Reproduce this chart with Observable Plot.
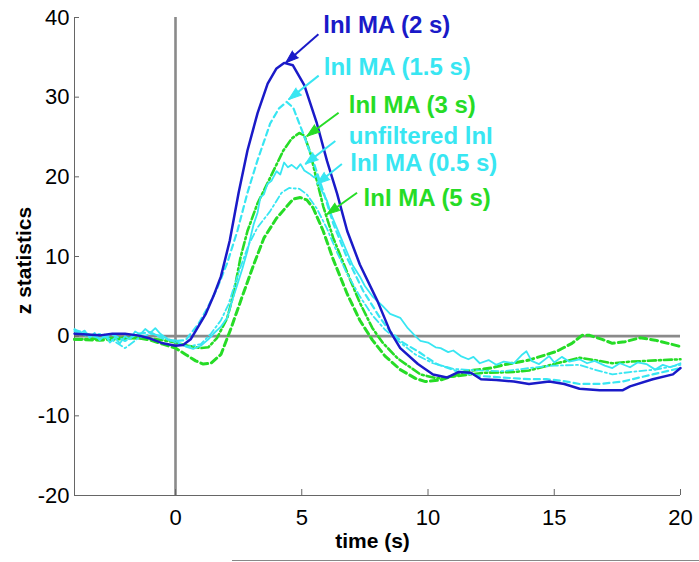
<!DOCTYPE html>
<html><head><meta charset="utf-8">
<script src="https://cdn.jsdelivr.net/npm/d3@7"></script>
<script src="https://cdn.jsdelivr.net/npm/@observablehq/plot@0.6"></script>
<style>
body{margin:0;background:#fff;}
#chart{position:relative;width:699px;height:562px;overflow:hidden;}
.edge{position:absolute;left:232px;top:560px;width:467px;height:1px;background:#888;}
</style></head><body><div id="chart"><div class="edge"></div></div>
<script>
// ---- data ----
const tMA2 = [-4,-3.5,-3,-2.5,-2,-1.5,-1,-0.5,0,0.3,0.6,0.9,1.2,1.5,1.8,2.15,2.5,2.85,3.25,3.65,4.0,4.3,4.65,5.1,5.6,6.0,6.4,6.8,7.3,8.0,8.5,8.9,9.6,10.2,10.75,11.2,11.7,12.1,12.7,13.4,14.0,14.8,15.4,16.0,16.8,17.7,18.0,18.9,19.7,20];
const zMA2 = [0.3,0.2,0.1,0.3,0.3,0.1,-0.3,-0.9,-1.2,-1.1,-0.4,1.2,2.8,5.0,7.5,12.0,18.0,23.3,28.0,31.7,33.6,34.3,34.0,31.5,26.7,22.0,17.9,13.2,9.0,4.4,0.6,-1.5,-3.5,-4.8,-5.2,-4.5,-4.6,-5.4,-5.5,-5.7,-6.0,-5.7,-6.0,-6.6,-6.8,-6.8,-6.3,-5.4,-4.8,-4.0];

const tMA15 = [-4,-3.5,-3,-2.5,-2,-1.5,-1,-0.5,0,0.4,0.9,1.26,1.65,2.05,2.45,2.85,3.24,3.75,4.1,4.4,4.66,5.06,5.45,5.85,6.25,6.8,7.43,8.1,8.5,9.0,9.6,10.35,11.15,12.05,13,14,14.7,15.3,16,16.8,17.7,18.9,20];
const zMA15 = [0.8,0.3,-0.3,0.2,-0.6,0.3,0.5,-0.3,-0.6,-0.5,1.5,3.5,6.0,9.2,13.2,18.0,22.0,26.7,28.6,29.4,28.7,25.4,22.0,18.2,14.1,9.8,5.7,2.3,0.6,-0.8,-1.9,-3.5,-4.4,-5.0,-5.2,-5.4,-5.4,-5.6,-6.0,-6.0,-5.7,-4.8,-4.0];

const tMA3 = [-4,-3,-2,-1,-0.5,0,0.5,1.0,1.3,1.65,2.05,2.3,2.57,2.85,3.24,3.75,4.27,4.6,4.9,5.1,5.34,5.6,5.85,6.25,6.8,7.3,7.8,8.2,8.8,9.7,10.35,11.15,12.2,13.4,14,15,16,16.6,17.3,18,18.65,19.3,20];
const zMA3 = [-0.4,-0.3,-0.2,-0.3,-0.5,-0.8,-1.2,-1.5,-1.4,-0.2,2.3,5.3,9.8,13.2,16.6,19.9,23.3,24.8,25.5,25.2,23.0,19.5,16.3,12.3,8.0,4.2,1.0,-0.8,-2.8,-4.8,-5.3,-5.0,-4.6,-4.5,-4.3,-3.5,-2.7,-3.0,-3.4,-3.2,-3.1,-3.0,-2.9];

const tMA5 = [-4,-3,-2,-1.5,-1,-0.5,0,0.4,0.8,1.1,1.4,1.8,2.2,2.6,3.1,3.5,4.0,4.66,4.94,5.2,5.45,5.85,6.25,6.8,7.3,7.8,8.3,8.9,9.5,9.9,10.5,11,11.5,12,12.5,13,14,15.1,15.7,16.1,16.4,16.9,17.3,17.8,18.4,19,19.5,20];
const zMA5 = [-0.4,-0.5,-0.3,-0.2,-0.5,-1.0,-1.5,-2.3,-3.1,-3.5,-3.4,-2.3,1.0,4.6,9.0,12.3,14.8,17.2,17.4,17.1,16.1,13.2,9.6,5.3,2.0,-0.5,-2.5,-4.2,-5.3,-5.7,-5.5,-5.0,-4.4,-4.2,-4.0,-3.6,-3.0,-1.9,-0.9,0.1,0.1,-0.4,-0.9,-0.7,-0.2,-0.5,-0.9,-1.3];

const tRaw = [-4,-3.8,-3.6,-3.4,-3.2,-3.0,-2.8,-2.6,-2.4,-2.2,-2.0,-1.8,-1.6,-1.4,-1.2,-1.0,-0.8,-0.6,-0.4,-0.2,0,0.2,0.4,0.7,1.0,1.3,1.5,1.8,2.05,2.25,2.45,2.65,2.85,3.0,3.1,3.25,3.36,3.5,3.64,3.8,4.0,4.15,4.3,4.45,4.6,4.8,4.95,5.1,5.3,5.5,5.6,5.75,5.9,6.0,6.2,6.4,6.6,6.8,7.0,7.3,7.5,7.8,8.0,8.2,8.5,8.9,9.2,9.5,9.7,10.0,10.3,10.5,10.8,11.0,11.3,11.6,11.8,12.05,12.4,12.7,13.0,13.4,13.7,13.9,14.1,14.4,14.8,15.0,15.3,15.6,16.0,16.3,16.6,17.0,17.3,17.6,18.0,18.3,18.65,19.0,19.3,19.6,20];
const zRaw = [0.9,0.3,0.7,-0.2,0.4,-0.5,0.2,-0.8,-0.2,-0.9,0.0,-0.4,0.6,0.2,0.9,0.4,1.0,0.3,-0.2,-0.6,-0.5,-1.0,-1.3,-1.6,-1.2,-0.4,0.3,1.2,2.3,4.5,6.5,8.5,10.7,12.8,14.1,15.5,17.4,17.8,19.1,19.5,20.7,20.3,21.8,21.2,21.5,21.0,21.6,20.8,20.4,19.9,20.2,18.5,17.6,17.0,15.0,13.5,12.0,10.5,9.0,7.5,6.3,5.0,4.4,3.8,2.8,2.3,1.0,0.0,-0.6,-0.8,-1.4,-1.5,-2.0,-1.8,-2.5,-2.9,-2.6,-3.4,-3.0,-3.6,-3.2,-3.4,-2.4,-1.9,-3.1,-3.5,-2.5,-3.3,-2.6,-3.2,-2.9,-3.4,-3.1,-3.7,-4.0,-3.4,-3.9,-3.3,-3.5,-4.2,-3.6,-3.9,-3.4];

const tMA05 = [-4,-3.5,-3,-2.5,-2,-1.7,-1.5,-1,-0.5,0,0.5,1.0,1.4,1.8,2.1,2.5,2.9,3.24,3.75,4.2,4.5,4.9,5.2,5.6,6.0,6.4,6.8,7.3,7.8,8.3,8.9,9.5,10.2,11,12,13,14,15,16,16.6,17.3,18,19,20];
const zMA05 = [0.6,0.0,0.3,-0.5,-1.5,-0.8,-0.3,0.3,0.0,-0.8,-1.3,-1.0,0.3,2.0,4.0,8.0,11.5,13.6,15.7,18.0,18.6,18.5,17.8,16.0,13.5,10.5,7.8,5.0,2.6,0.8,-0.8,-2.3,-3.4,-4.1,-4.3,-4.4,-4.0,-3.7,-3.6,-4.2,-4.8,-4.5,-4.2,-3.6];

const xTicks = [0,5,10,15,20];
const yTicks = [-20,-10,0,10,20,30,40];

// annotations
const labelNames = ["lnI MA (2 s)","lnI MA (1.5 s)","lnI MA (3 s)","unfiltered lnI","lnI MA (0.5 s)","lnI MA (5 s)"];
const labelT = [5.85,5.87,6.86,6.86,6.92,7.45];
const labelZ = [39.0,33.8,29.0,25.1,21.7,17.3];
const arrowT0 = [5.66,5.67,6.46,6.33,6.59,7.19];
const arrowZ0 = [37.9,32.7,28.05,24.5,21.6,18.0];
const arrowT1 = [4.36,4.48,5.2,5.14,5.6,6.0];
const arrowZ1 = [34.3,29.7,25.1,21.6,19.1,15.3];

// ---- styles ----
const BLUE = "#1a1ac8", CYAN = "#38e6f2", GREEN = "#26dc26";
const labelColors = [BLUE, CYAN, GREEN, CYAN, CYAN, GREEN];

const series = [
  {t: tMA5, z: zMA5, color: GREEN, dash: "7,4", w: 3},
  {t: tMA3, z: zMA3, color: GREEN, dash: "8,3,2,3", w: 2.6},
  {t: tMA05, z: zMA05, color: CYAN, dash: "7,3,2,3", w: 1.8},
  {t: tRaw, z: zRaw, color: CYAN, dash: null, w: 1.8},
  {t: tMA15, z: zMA15, color: CYAN, dash: "6,4", w: 2.2},
  {t: tMA2, z: zMA2, color: BLUE, dash: null, w: 2.5}
];

const ann = labelNames.map((name, i) => ({
  name, t: labelT[i], z: labelZ[i], t0: arrowT0[i], z0: arrowZ0[i], t1: arrowT1[i], z1: arrowZ1[i], color: labelColors[i]
}));

const fmt = d => String(d);

function baseMarks() {
  const m = [
    Plot.ruleX([0], {stroke: "#8a8a8a", strokeWidth: 2.6}),
    Plot.ruleY([0], {stroke: "#8a8a8a", strokeWidth: 2.6}),
    Plot.ruleX([-4], {stroke: "#666"}),
    Plot.ruleY([-20], {stroke: "#666"}),
    Plot.axisX(xTicks, {tickSize: -6, tickPadding: 20, fontSize: 22, label: null, stroke: "#666", fill: "black", tickFormat: fmt}),
    Plot.axisY(yTicks, {tickSize: -5, tickPadding: 10, fontSize: 22, label: null, stroke: "#666", fill: "black", tickFormat: fmt}),
    Plot.text(["time (s)"], {frameAnchor: "bottom", textAnchor: "middle", lineAnchor: "middle", dy: 46, dx: -5, fontSize: 21, fontWeight: "bold", fill: "black"}),
    Plot.text(["z statistics"], {frameAnchor: "left", textAnchor: "middle", lineAnchor: "middle", dx: -50, dy: 4, rotate: -90, fontSize: 21, fontWeight: "bold", fill: "black"})
  ];
  for (const s of series) {
    const rows = s.t.map((t, i) => ({t, z: s.z[i]}));
    m.push(Plot.line(rows, {x: "t", y: "z", stroke: s.color, strokeWidth: s.w, strokeDasharray: s.dash || undefined, curve: "linear"}));
  }
  m.push(Plot.link(ann, {x1: "t0", y1: "z0", x2: "t1", y2: "z1", stroke: "color", strokeWidth: 2}));
  m.push(Plot.text(ann, {x: "t", y: "z", text: "name", fill: "color", textAnchor: "start", lineAnchor: "middle", fontSize: 24, fontWeight: "bold"}));
  return m;
}

const opts = {
  width: 699, height: 562,
  marginLeft: 74, marginRight: 19, marginTop: 17, marginBottom: 67,
  x: {domain: [-4, 20]},
  y: {domain: [-20, 40]},
  style: {fontFamily: "'Liberation Sans', Arial, sans-serif", background: "white", color: "black"}
};

const first = Plot.plot({...opts, marks: baseMarks()});
const sx = first.scale("x"), sy = first.scale("y");
const heads = ann.map(a => {
  const dx = sx.apply(a.t1) - sx.apply(a.t0);
  const dy = sy.apply(a.z1) - sy.apply(a.z0);
  return {...a, rot: Math.atan2(dx, -dy) * 180 / Math.PI};
});

const chart = Plot.plot({...opts, marks: [
  ...baseMarks(),
  Plot.vector(heads, {x: "t1", y: "z1", rotate: "rot", shape: "spike", anchor: "end", length: 13, r: 4.5, fill: "color", stroke: "color", strokeWidth: 1})
]});
document.getElementById("chart").prepend(chart);
</script>
</body></html>
